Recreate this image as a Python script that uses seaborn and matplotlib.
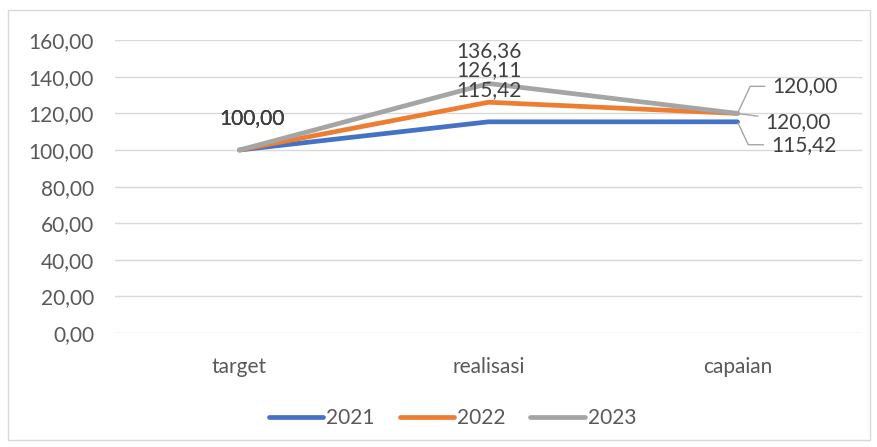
import pandas as pd
import matplotlib.pyplot as plt
import seaborn as sns
from matplotlib.patches import Rectangle

# Chart data
categories = ['target', 'realisasi', 'capaian']
years = ['2021', '2022', '2023']
values_2021 = [100.00, 115.42, 115.42]
values_2022 = [100.00, 126.11, 120.00]
values_2023 = [100.00, 136.36, 120.00]
colors = ['#4472C4', '#ED7D31', '#A5A5A5']

# Long format table for seaborn
rows = []
for year, vals in zip(years, [values_2021, values_2022, values_2023]):
    for i, (cat, v) in enumerate(zip(categories, vals)):
        rows.append({'kategori': cat, 'x': i, 'nilai': v, 'tahun': year})
df = pd.DataFrame(rows)

sns.set_style('white')
plt.rcParams['font.family'] = ['Lato', 'DejaVu Sans']
FS = 15

fig = plt.figure(figsize=(8.77, 4.47), dpi=100)
ax = fig.add_axes([0.131, 0.255, 0.852, 0.655])

# Outer chart border
fig.patches.append(Rectangle((8 / 877, 1 - 440 / 447), 862 / 877, 430 / 447,
                             transform=fig.transFigure, fill=False,
                             edgecolor='#D9D9D9', linewidth=1))

sns.lineplot(data=df, x='x', y='nilai', hue='tahun', palette=colors,
             linewidth=3.4, ax=ax, legend=False, solid_capstyle='round')

ax.set_xlim(-0.5, 2.5)
ax.set_ylim(0, 160)
ax.set_yticks(range(0, 161, 20))
ax.set_yticklabels([f'{v:.2f}'.replace('.', ',') for v in range(0, 161, 20)])
ax.set_xticks(range(len(categories)))
ax.set_xticklabels(categories)
ax.tick_params(axis='both', length=0, labelsize=FS, colors='#595959')
ax.tick_params(axis='x', pad=17)
ax.tick_params(axis='y', pad=15)
ax.grid(axis='y', color='#D9D9D9', linewidth=1)
ax.set_axisbelow(True)
for s in ax.spines.values():
    s.set_visible(False)
ax.set_xlabel('')
ax.set_ylabel('')

def fmt(v):
    return f'{v:.2f}'.replace('.', ',')

lbl = dict(fontsize=FS, color='#404040', ha='center', va='center')

# target labels (all overlap)
for vals in [values_2021, values_2022, values_2023]:
    ax.annotate(fmt(vals[0]), (0, vals[0]), xytext=(9, 23),
                textcoords='offset points', **lbl)

# realisasi labels above each point
for vals in [values_2021, values_2022, values_2023]:
    ax.annotate(fmt(vals[1]), (1, vals[1]), xytext=(0, 23),
                textcoords='offset points', **lbl)

# capaian labels with leader lines
txt = dict(textcoords='offset points', ha='left', va='center', fontsize=FS,
           color='#404040')
ax.annotate(fmt(values_2023[2]), (2, values_2023[2]), xytext=(25, 19.5),
            arrowprops=dict(arrowstyle='-', color='#A5A5A5', linewidth=1,
                            connectionstyle='angle,angleA=0,angleB=65,rad=0',
                            shrinkA=3, shrinkB=1), **txt)
ax.annotate(fmt(values_2022[2]), (2, values_2022[2]), xytext=(20, -6),
            arrowprops=dict(arrowstyle='-', color='#A5A5A5', linewidth=1,
                            shrinkA=3, shrinkB=1), **txt)
ax.annotate(fmt(values_2021[2]), (2, values_2021[2]), xytext=(24, -16.5),
            arrowprops=dict(arrowstyle='-', color='#A5A5A5', linewidth=1,
                            connectionstyle='angle,angleA=0,angleB=-65,rad=0',
                            shrinkA=3, shrinkB=1), **txt)

# Legend
handles = [plt.Line2D([], [], color=c, linewidth=3.4, solid_capstyle='round')
           for c in colors]
fig.legend(handles, years, loc='center', bbox_to_anchor=(0.516, 1 - 418 / 447),
           ncol=3, frameon=False, fontsize=FS, handlelength=2.6,
           handletextpad=0.15, columnspacing=1.2, labelcolor='#595959')

fig.savefig('out.png', dpi=100)
